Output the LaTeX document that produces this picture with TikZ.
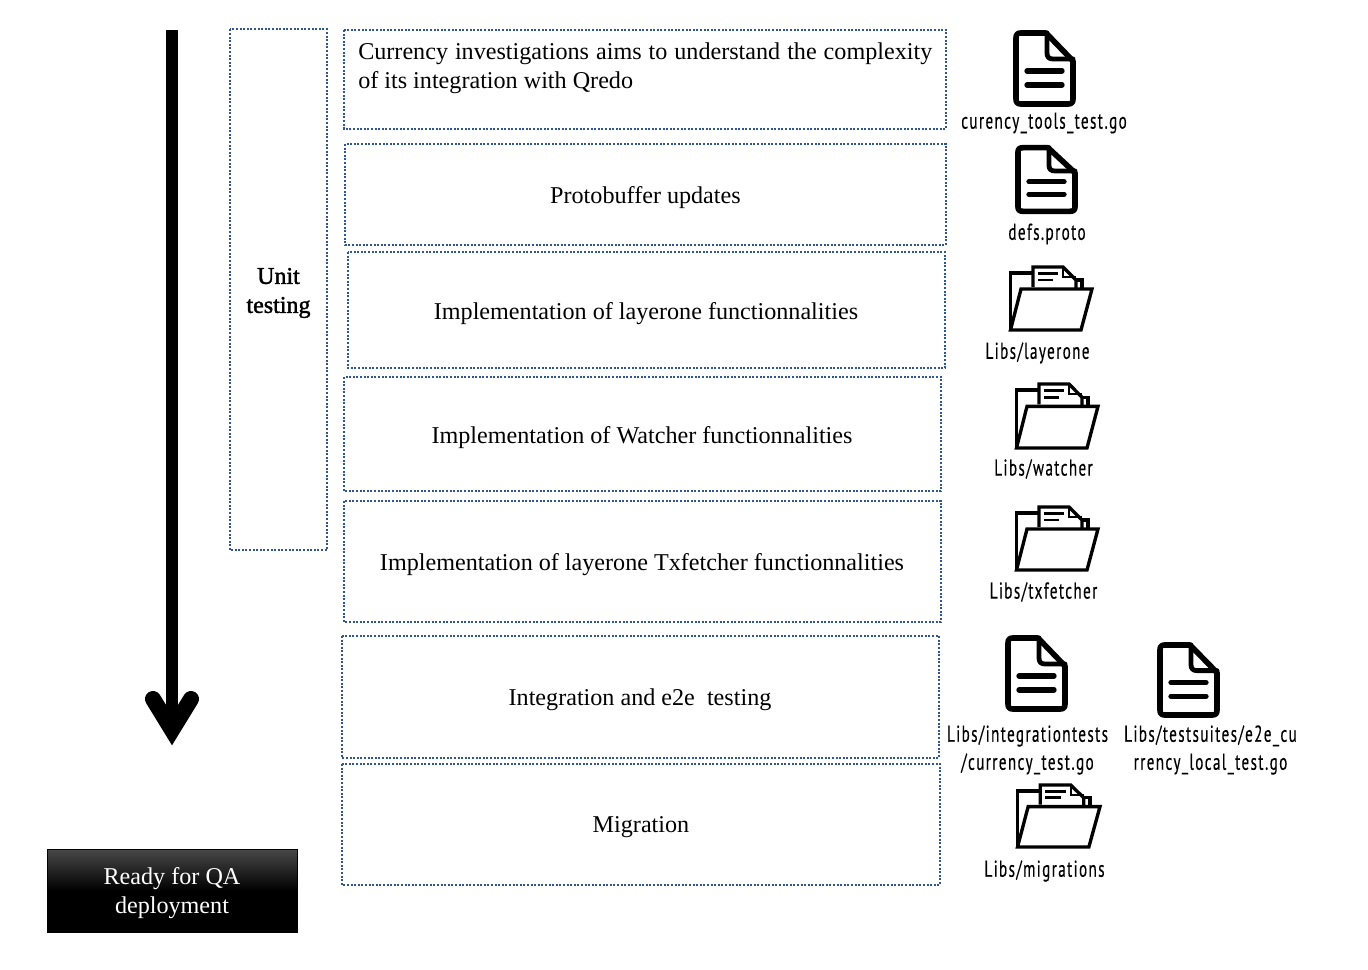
\documentclass[tikz,border=0pt]{standalone}
\usepackage{fontspec}
\setmainfont{Liberation Serif}
\newfontfamily\labelfont[FakeStretch=0.66,LetterSpace=6.0,FakeBold=0.3]{PT Sans}
\newfontfamily\unitfont[FakeBold=1.5]{Liberation Serif}
\definecolor{dotblue}{HTML}{2F5597}
\tikzset{
  x=0.75pt,y=-0.75pt,
  stepbox/.style={draw=dotblue,line width=1.5pt,dash pattern=on 1.5pt off 1.2pt,fill=none},
  steptext/.style={font=\fontsize{18.1pt}{21.75pt}\selectfont,align=center,inner sep=0pt,text=black},
  filelabel/.style={font=\labelfont\fontsize{17.2pt}{21pt}\selectfont,align=center,inner sep=0pt,text=black},
  iconline/.style={draw=black,line width=4.2pt,line join=round,line cap=round},
  folderline/.style={draw=black,line width=2.5pt,line join=miter}
}
% name x1 y1 x2 y2
\newcommand{\stepbox}[5]{\path[stepbox] (#2,#3) rectangle (#4,#5);\coordinate (#1) at ({(#2+#4)/2},{(#3+#5)/2});}
% left top width height (px)
\newcommand{\docicon}[4]{%
 \begin{scope}[shift={(#1,#2)},xscale=#3/63,yscale=#4/77]
  \draw[iconline] (3,8) .. controls (3,4.5) and (4.5,3) .. (8,3) -- (33,3) -- (60,31) -- (60,69) .. controls (60,72.5) and (58.5,74) .. (55,74) -- (8,74) .. controls (4.5,74) and (3,72.5) .. (3,69) -- cycle;
  \draw[iconline,line width=3.6pt] (34,3) -- (34,23) .. controls (34,27) and (36,29) .. (40,29) -- (60,29);
  \draw[iconline,line width=4pt] (14,41) -- (49,41) (14,55) -- (49,55);
 \end{scope}}
\newcommand{\foldericon}[4]{%
 \begin{scope}[shift={(#1,#2)},xscale=#3/84,yscale=#4/67]
  \draw[folderline] (1.5,65) -- (1.5,8) -- (23,8);
  \draw[folderline] (24,22) -- (24,2) -- (54,2) -- (67,15) -- (67,23);
  \draw[folderline,line width=1.5pt] (54,2) -- (54,12) -- (67,12);
  \draw[folderline] (67,15) -- (73,15) -- (73,23);
  \draw[folderline,line width=2.2pt] (29,8.5) -- (49,8.5) (29,15) -- (44,15);
  \draw[folderline] (1.5,65) -- (12,24) -- (83,24) -- (72,65) -- cycle;
 \end{scope}}
\begin{document}
\begin{tikzpicture}
\useasboundingbox (0,0) rectangle (1368,970);
\fill[white] (0,0) rectangle (1368,970);
% timeline arrow
\coordinate (arrowstart) at (172,30);
\coordinate (arrowend) at (172,728);
\coordinate (armleft) at (153,699);
\coordinate (armright) at (191,699);
\draw[black,line width=9pt] (arrowstart) -- (arrowend);
\draw[black,line width=12pt,line cap=round,line join=miter] (armleft) -- (172,730) -- (armright);
% boxes
\stepbox{unit}{229.5}{29.5}{327}{550}
\stepbox{b1}{344}{30}{946}{129}
\stepbox{b2}{345}{144}{946}{245}
\stepbox{b3}{348}{252}{945}{368}
\stepbox{b4}{344}{377}{941}{491}
\stepbox{b5}{344}{501}{941}{622}
\stepbox{b6}{342}{636}{939}{758}
\stepbox{b7}{342}{764}{940}{885}
\node[steptext,font=\unitfont\fontsize{18pt}{21.75pt}\selectfont] (unitlabel) at (278.5,293) {Unit\\testing};
\node[steptext,align=left,anchor=west] (t1) at (358,68) {\makebox[430.5pt][s]{Currency investigations aims to understand the complexity}\\of its integration with Qredo};
\node[steptext] (t2) at (645.5,198) {Protobuffer updates};
\node[steptext] (t3) at (646,314) {Implementation of layerone functionnalities};
\node[steptext] (t4) at (642,438) {Implementation of Watcher functionnalities};
\node[steptext] (t5) at (642,565) {Implementation of layerone Txfetcher functionnalities};
\node[steptext] (t6) at (640,700) {Integration and e2e~~testing};
\node[steptext] (t7) at (641,827) {Migration};
% QA box
\node[minimum width=187.5pt,minimum height=62.25pt,inner sep=0pt,draw=black,line width=0.75pt,
  top color=black!72,bottom color=black,middle color=black] (qa) at (172.5,891) {};
\node[steptext,text=white] (qatext) at (172,893) {Ready for QA\\deployment};
% icons
\docicon{1013}{30}{63}{77}
\docicon{1015}{145}{63}{69}
\foldericon{1009}{265}{84}{67}
\foldericon{1015}{382}{84}{68}
\foldericon{1015}{505}{84}{67}
\docicon{1005}{635}{63}{77}
\docicon{1157}{642}{63}{76}
\foldericon{1016}{783}{85}{66}
% labels
\node[filelabel] (l1) at (1044,123) {curency\_tools\_test.go};
\node[filelabel] (l2) at (1047,234) {defs.proto};
\node[filelabel] (l3) at (1037.5,353) {Libs/layerone};
\node[filelabel] (l4) at (1043.5,469) {Libs/watcher};
\node[filelabel] (l5) at (1043.5,592) {Libs/txfetcher};
\node[filelabel] (l6) at (1027.5,750) {Libs/integrationtests\\/currency\_test.go};
\node[filelabel] (l7) at (1210.5,750) {Libs/testsuites/e2e\_cu\\rrency\_local\_test.go};
\node[filelabel] (l8) at (1044.5,871) {Libs/migrations};
\end{tikzpicture}
\end{document}
